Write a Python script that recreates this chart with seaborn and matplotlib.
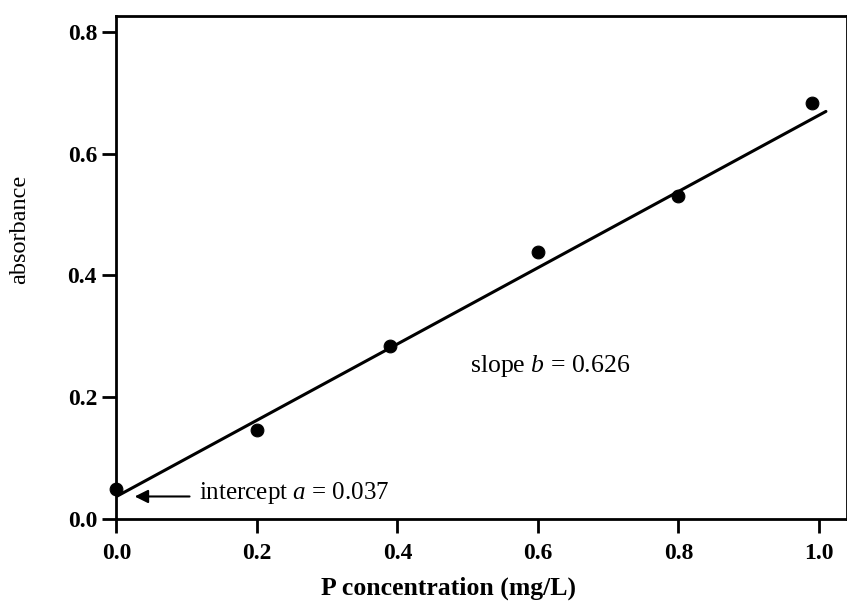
import matplotlib
matplotlib.use("Agg")
import matplotlib.pyplot as plt
import seaborn as sns
import numpy as np
import pandas as pd

# data
conc = [0.0, 0.2, 0.39, 0.6, 0.8, 0.99]
absorbance = [0.049, 0.146, 0.284, 0.439, 0.530, 0.683]
intercept_a = 0.037
slope_b = 0.626
fit_x = [0.0, 1.01]
x_ticks = [0.0, 0.2, 0.4, 0.6, 0.8, 1.0]
y_ticks = [0.0, 0.2, 0.4, 0.6, 0.8]

sns.set_theme(style="ticks")
plt.rcParams['font.family'] = ['Liberation Serif', 'DejaVu Serif']
plt.rcParams['mathtext.fontset'] = 'custom'
plt.rcParams['mathtext.it'] = 'Liberation Serif:italic'
plt.rcParams['mathtext.rm'] = 'Liberation Serif'
plt.rcParams['text.color'] = 'black'

fig = plt.figure(figsize=(8.47, 6.14), dpi=100)
ax = fig.add_axes([0.1375, 0.1547, 0.8625, 0.8193])

df = pd.DataFrame({"conc": conc, "absorbance": absorbance})
fit_df = pd.DataFrame({"x": fit_x, "y": [intercept_a + slope_b * v for v in fit_x]})

sns.lineplot(data=fit_df, x="x", y="y", ax=ax, color="black", linewidth=2.2)
sns.scatterplot(data=df, x="conc", y="absorbance", ax=ax, color="black", s=85,
                edgecolor="black", zorder=5, clip_on=False)

ax.set_xlim(0.0, 1.04)
ax.set_ylim(0.0, 0.826)
ax.set_xticks(x_ticks)
ax.set_yticks(y_ticks)
ax.set_xticklabels([f"{v:.1f}" for v in x_ticks])
ax.set_yticklabels([f"{v:.1f}" for v in y_ticks])
ax.tick_params(axis="both", direction="out", length=10, width=2.0, labelsize=17,
               colors="black")
ax.tick_params(axis="x", pad=7)
ax.tick_params(axis="y", pad=4)
for lab in ax.get_xticklabels() + ax.get_yticklabels():
    lab.set_fontweight("bold")
for sp in ax.spines.values():
    sp.set_linewidth(2.0)
    sp.set_color("black")

ax.set_xlabel("P concentration (mg/L)", fontsize=18.5, fontweight="bold", color="black")
ax.xaxis.set_label_coords(0.455, -0.115)
ax.set_ylabel("absorbance", fontsize=17.5, color="black")
ax.yaxis.set_label_coords(-0.118, 0.575)

ax.annotate("", xy=(0.022, intercept_a), xytext=(0.108, intercept_a),
            arrowprops=dict(arrowstyle="-|>", color="black", lw=1.5, mutation_scale=20))
ax.text(0.118, 0.043, r"intercept $\it{a}$ = 0.037", fontsize=18, va="center", ha="left")
ax.text(0.504, 0.251, r"slope $\it{b}$ = 0.626", fontsize=18.5, va="center", ha="left")

fig.savefig("out.png", dpi=100)
